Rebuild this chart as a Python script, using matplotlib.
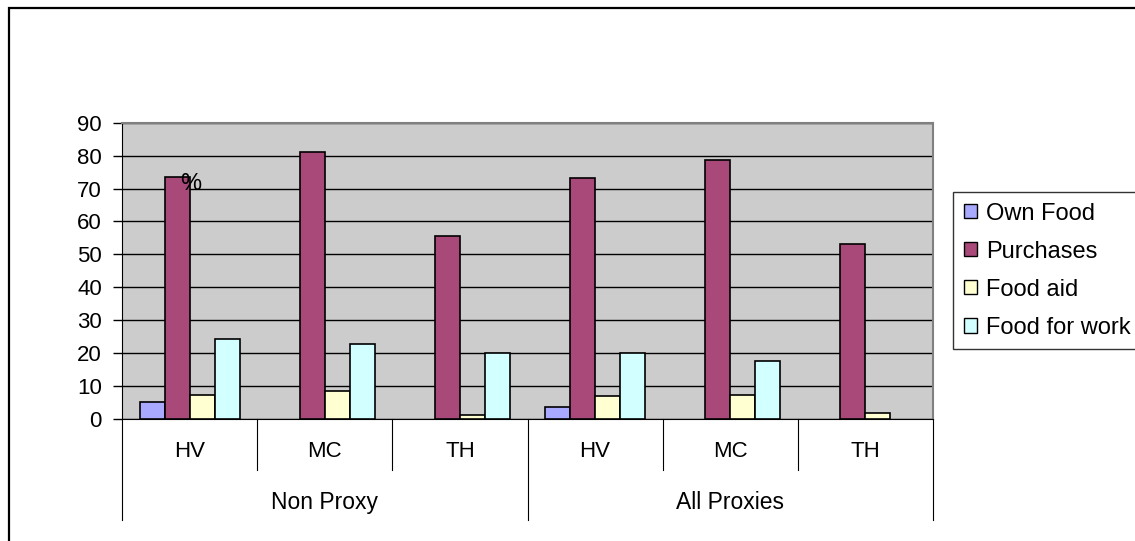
import matplotlib.pyplot as plt
from matplotlib.lines import Line2D
from matplotlib.patches import Rectangle

# data
groups = ["Non Proxy", "All Proxies"]
sites = ["HV", "MC", "TH", "HV", "MC", "TH"]
series = ["Own Food", "Purchases", "Food aid", "Food for work"]
own_food = [5.3, 0, 0, 3.6, 0, 0]
purchases = [73.6, 81.1, 55.5, 73.1, 78.7, 53.2]
food_aid = [7.4, 8.5, 1.3, 6.9, 7.4, 1.8]
food_for_work = [24.3, 22.8, 19.9, 19.9, 17.6, 0]
colors = ["#A9A9FF", "#A8497A", "#FFFFD2", "#D2FFFF"]

plt.rcParams['font.family'] = ['Liberation Sans', 'DejaVu Sans']

W, H = 1135, 541
fig = plt.figure(figsize=(W / 100, H / 100), dpi=100)

# outer frame, only top and left edges visible
fig.patches.append(Rectangle((9 / W, -0.1), 1.2, 1 - 8 / H + 0.1,
                             transform=fig.transFigure, fill=False,
                             edgecolor="black", linewidth=1.6))

ax = fig.add_axes([122 / W, (H - 419) / H, 811 / W, 296.3 / H])
ax.set_facecolor("#CCCCCC")

w = 0.185
vals = [own_food, purchases, food_aid, food_for_work]
for k, (v, c) in enumerate(zip(vals, colors)):
    for i, y in enumerate(v):
        if y == 0:
            continue
        ax.bar(i + (k - 1.5) * w, y, width=w, color=c, edgecolor="black",
               linewidth=1.2, zorder=3)

ax.set_xlim(-0.5, 5.5)
ax.set_ylim(0, 90)
ax.set_yticks(range(0, 91, 10))
ax.tick_params(axis="y", length=6.5, width=1, direction="out", labelsize=16, pad=8)
ax.set_xticks([])
ax.yaxis.grid(True, color="black", linewidth=1)
ax.set_axisbelow(True)

for side in ["top", "right"]:
    ax.spines[side].set_color("#808080")
    ax.spines[side].set_linewidth(1.5)
ax.spines["left"].set_color("black")
ax.spines["bottom"].set_color("black")

ax.text(0.01, 71.3, "%", ha="center", va="center", fontsize=17, zorder=4)

# two-level category axis
tr = ax.get_xaxis_transform()
for i, s in enumerate(sites):
    ax.text(i, -0.111, s, transform=tr, ha="center", va="center", fontsize=16)
for j, g in enumerate(groups):
    ax.text(j * 3 + 1, -0.283, g, transform=tr, ha="center", va="center", fontsize=16.5)
for b in range(7):
    x = b - 0.5
    y_end = -0.341 if b % 3 == 0 else -0.172
    ax.add_line(Line2D([x, x], [0, y_end], transform=tr, color="black",
                       linewidth=0.8, clip_on=False))

handles = [Rectangle((0, 0), 1, 1, facecolor=c, edgecolor="black", linewidth=1)
           for c in colors]
fig.legend(handles, series, loc="upper left",
           bbox_to_anchor=(953 / W, 1 - 192 / H), borderaxespad=0,
           frameon=True, fancybox=False, edgecolor="black", fontsize=17,
           handlelength=0.55, handleheight=0.55, handletextpad=0.4,
           labelspacing=0.68, borderpad=0.45)

fig.savefig("out.png", dpi=100)
